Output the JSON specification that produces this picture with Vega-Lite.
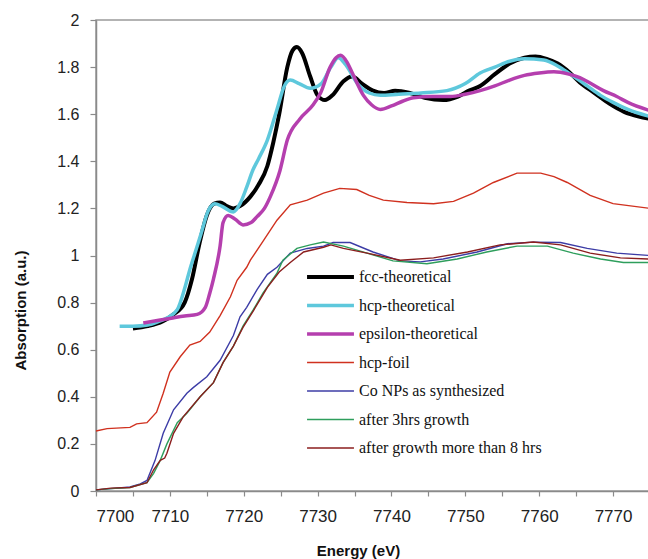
{
  "$schema": "https://vega.github.io/schema/vega-lite/v6.json",
  "width": 554,
  "height": 471,
  "autosize": "none",
  "padding": {"left": 96, "top": 20, "right": 0, "bottom": 68},
  "background": "white",
  "config": {
    "view": {"stroke": "#9a9a9a", "strokeWidth": 1.5},
    "font": "Liberation Sans",
    "axis": {
      "domainColor": "#8a8a8a", "domainWidth": 1.5, "tickColor": "#8a8a8a", "tickWidth": 1.2,
      "grid": false, "labelColor": "#222", "titleColor": "#111",
      "labelFont": "Liberation Sans", "titleFont": "Liberation Sans"
    }
  },
  "data": {"values": [
    {"s":"fcc-theoretical","e":7705,"v":0.69},{"s":"fcc-theoretical","e":7707,"v":0.70},{"s":"fcc-theoretical","e":7709,"v":0.72},{"s":"fcc-theoretical","e":7710.5,"v":0.75},{"s":"fcc-theoretical","e":7712,"v":0.80},{"s":"fcc-theoretical","e":7713,"v":0.90},{"s":"fcc-theoretical","e":7714,"v":1.05},{"s":"fcc-theoretical","e":7715,"v":1.17},{"s":"fcc-theoretical","e":7716,"v":1.22},{"s":"fcc-theoretical","e":7716.8,"v":1.225},{"s":"fcc-theoretical","e":7717.7,"v":1.21},{"s":"fcc-theoretical","e":7718.6,"v":1.20},{"s":"fcc-theoretical","e":7719.5,"v":1.21},{"s":"fcc-theoretical","e":7720.9,"v":1.25},{"s":"fcc-theoretical","e":7722,"v":1.30},{"s":"fcc-theoretical","e":7723.2,"v":1.38},{"s":"fcc-theoretical","e":7724,"v":1.48},{"s":"fcc-theoretical","e":7724.8,"v":1.60},{"s":"fcc-theoretical","e":7725.9,"v":1.80},{"s":"fcc-theoretical","e":7726.6,"v":1.87},{"s":"fcc-theoretical","e":7727.2,"v":1.885},{"s":"fcc-theoretical","e":7727.9,"v":1.86},{"s":"fcc-theoretical","e":7729,"v":1.76},{"s":"fcc-theoretical","e":7730,"v":1.68},{"s":"fcc-theoretical","e":7731,"v":1.66},{"s":"fcc-theoretical","e":7732,"v":1.68},{"s":"fcc-theoretical","e":7733.5,"v":1.74},{"s":"fcc-theoretical","e":7734.7,"v":1.76},{"s":"fcc-theoretical","e":7736,"v":1.73},{"s":"fcc-theoretical","e":7737.5,"v":1.70},{"s":"fcc-theoretical","e":7739,"v":1.69},{"s":"fcc-theoretical","e":7740.5,"v":1.70},{"s":"fcc-theoretical","e":7742.5,"v":1.69},{"s":"fcc-theoretical","e":7744.5,"v":1.67},{"s":"fcc-theoretical","e":7747,"v":1.66},{"s":"fcc-theoretical","e":7749,"v":1.675},{"s":"fcc-theoretical","e":7750.5,"v":1.70},{"s":"fcc-theoretical","e":7752,"v":1.72},{"s":"fcc-theoretical","e":7754,"v":1.77},{"s":"fcc-theoretical","e":7756,"v":1.815},{"s":"fcc-theoretical","e":7758,"v":1.84},{"s":"fcc-theoretical","e":7759.5,"v":1.845},{"s":"fcc-theoretical","e":7761,"v":1.835},{"s":"fcc-theoretical","e":7762.5,"v":1.815},{"s":"fcc-theoretical","e":7764,"v":1.78},{"s":"fcc-theoretical","e":7765.5,"v":1.735},{"s":"fcc-theoretical","e":7767.5,"v":1.69},{"s":"fcc-theoretical","e":7769.5,"v":1.645},{"s":"fcc-theoretical","e":7771.5,"v":1.61},{"s":"fcc-theoretical","e":7773.5,"v":1.59},{"s":"fcc-theoretical","e":7775,"v":1.58},

    {"s":"hcp-theoretical","e":7703.2,"v":0.70},{"s":"hcp-theoretical","e":7705,"v":0.70},{"s":"hcp-theoretical","e":7707,"v":0.705},{"s":"hcp-theoretical","e":7708.5,"v":0.72},{"s":"hcp-theoretical","e":7709.6,"v":0.735},{"s":"hcp-theoretical","e":7711,"v":0.77},{"s":"hcp-theoretical","e":7712,"v":0.86},{"s":"hcp-theoretical","e":7712.7,"v":0.94},{"s":"hcp-theoretical","e":7713.5,"v":1.02},{"s":"hcp-theoretical","e":7714.2,"v":1.09},{"s":"hcp-theoretical","e":7715.2,"v":1.19},{"s":"hcp-theoretical","e":7716.1,"v":1.22},{"s":"hcp-theoretical","e":7717,"v":1.21},{"s":"hcp-theoretical","e":7718.6,"v":1.185},{"s":"hcp-theoretical","e":7719.5,"v":1.22},{"s":"hcp-theoretical","e":7720.4,"v":1.29},{"s":"hcp-theoretical","e":7721.2,"v":1.36},{"s":"hcp-theoretical","e":7722,"v":1.41},{"s":"hcp-theoretical","e":7723.2,"v":1.49},{"s":"hcp-theoretical","e":7724.5,"v":1.62},{"s":"hcp-theoretical","e":7725.5,"v":1.72},{"s":"hcp-theoretical","e":7726.3,"v":1.745},{"s":"hcp-theoretical","e":7727.5,"v":1.73},{"s":"hcp-theoretical","e":7729,"v":1.71},{"s":"hcp-theoretical","e":7730.5,"v":1.73},{"s":"hcp-theoretical","e":7731.8,"v":1.80},{"s":"hcp-theoretical","e":7732.8,"v":1.84},{"s":"hcp-theoretical","e":7733.8,"v":1.81},{"s":"hcp-theoretical","e":7735.4,"v":1.73},{"s":"hcp-theoretical","e":7737,"v":1.69},{"s":"hcp-theoretical","e":7738.5,"v":1.68},{"s":"hcp-theoretical","e":7741,"v":1.685},{"s":"hcp-theoretical","e":7744,"v":1.69},{"s":"hcp-theoretical","e":7747.5,"v":1.70},{"s":"hcp-theoretical","e":7750,"v":1.73},{"s":"hcp-theoretical","e":7752,"v":1.775},{"s":"hcp-theoretical","e":7754,"v":1.80},{"s":"hcp-theoretical","e":7756,"v":1.825},{"s":"hcp-theoretical","e":7758,"v":1.835},{"s":"hcp-theoretical","e":7760.6,"v":1.83},{"s":"hcp-theoretical","e":7762.5,"v":1.805},{"s":"hcp-theoretical","e":7764.2,"v":1.77},{"s":"hcp-theoretical","e":7766.5,"v":1.72},{"s":"hcp-theoretical","e":7768.3,"v":1.68},{"s":"hcp-theoretical","e":7770,"v":1.65},{"s":"hcp-theoretical","e":7772,"v":1.62},{"s":"hcp-theoretical","e":7775,"v":1.59},

    {"s":"epsilon-theoretical","e":7706.4,"v":0.713},{"s":"epsilon-theoretical","e":7708.5,"v":0.725},{"s":"epsilon-theoretical","e":7710.4,"v":0.735},{"s":"epsilon-theoretical","e":7712,"v":0.743},{"s":"epsilon-theoretical","e":7713.7,"v":0.75},{"s":"epsilon-theoretical","e":7714.8,"v":0.78},{"s":"epsilon-theoretical","e":7715.4,"v":0.84},{"s":"epsilon-theoretical","e":7715.9,"v":0.90},{"s":"epsilon-theoretical","e":7716.8,"v":1.04},{"s":"epsilon-theoretical","e":7717.2,"v":1.14},{"s":"epsilon-theoretical","e":7717.9,"v":1.17},{"s":"epsilon-theoretical","e":7718.8,"v":1.155},{"s":"epsilon-theoretical","e":7719.9,"v":1.13},{"s":"epsilon-theoretical","e":7721,"v":1.14},{"s":"epsilon-theoretical","e":7721.8,"v":1.165},{"s":"epsilon-theoretical","e":7722.8,"v":1.20},{"s":"epsilon-theoretical","e":7723.6,"v":1.25},{"s":"epsilon-theoretical","e":7724.9,"v":1.36},{"s":"epsilon-theoretical","e":7725.9,"v":1.49},{"s":"epsilon-theoretical","e":7727.6,"v":1.58},{"s":"epsilon-theoretical","e":7729.4,"v":1.64},{"s":"epsilon-theoretical","e":7730.4,"v":1.69},{"s":"epsilon-theoretical","e":7731.7,"v":1.80},{"s":"epsilon-theoretical","e":7732.5,"v":1.84},{"s":"epsilon-theoretical","e":7733.1,"v":1.85},{"s":"epsilon-theoretical","e":7734,"v":1.82},{"s":"epsilon-theoretical","e":7734.7,"v":1.775},{"s":"epsilon-theoretical","e":7736.2,"v":1.68},{"s":"epsilon-theoretical","e":7737.3,"v":1.64},{"s":"epsilon-theoretical","e":7738.5,"v":1.62},{"s":"epsilon-theoretical","e":7740,"v":1.635},{"s":"epsilon-theoretical","e":7741.5,"v":1.655},{"s":"epsilon-theoretical","e":7743,"v":1.67},{"s":"epsilon-theoretical","e":7745.5,"v":1.675},{"s":"epsilon-theoretical","e":7748,"v":1.675},{"s":"epsilon-theoretical","e":7750,"v":1.685},{"s":"epsilon-theoretical","e":7752,"v":1.70},{"s":"epsilon-theoretical","e":7754,"v":1.72},{"s":"epsilon-theoretical","e":7756,"v":1.745},{"s":"epsilon-theoretical","e":7758,"v":1.765},{"s":"epsilon-theoretical","e":7760,"v":1.775},{"s":"epsilon-theoretical","e":7762,"v":1.78},{"s":"epsilon-theoretical","e":7764,"v":1.77},{"s":"epsilon-theoretical","e":7765.5,"v":1.755},{"s":"epsilon-theoretical","e":7767,"v":1.73},{"s":"epsilon-theoretical","e":7768.7,"v":1.70},{"s":"epsilon-theoretical","e":7770.5,"v":1.675},{"s":"epsilon-theoretical","e":7772,"v":1.65},{"s":"epsilon-theoretical","e":7775,"v":1.615},

    {"s":"hcp-foil","e":7700,"v":0.255},{"s":"hcp-foil","e":7701.5,"v":0.265},{"s":"hcp-foil","e":7704.6,"v":0.27},{"s":"hcp-foil","e":7705.5,"v":0.285},{"s":"hcp-foil","e":7706.9,"v":0.29},{"s":"hcp-foil","e":7708.2,"v":0.335},{"s":"hcp-foil","e":7709.1,"v":0.415},{"s":"hcp-foil","e":7710,"v":0.505},{"s":"hcp-foil","e":7711.4,"v":0.57},{"s":"hcp-foil","e":7712.7,"v":0.62},{"s":"hcp-foil","e":7714.1,"v":0.635},{"s":"hcp-foil","e":7715.4,"v":0.675},{"s":"hcp-foil","e":7716.8,"v":0.745},{"s":"hcp-foil","e":7718.2,"v":0.825},{"s":"hcp-foil","e":7719.1,"v":0.895},{"s":"hcp-foil","e":7720.4,"v":0.95},{"s":"hcp-foil","e":7720.9,"v":0.98},{"s":"hcp-foil","e":7722.6,"v":1.06},{"s":"hcp-foil","e":7724.5,"v":1.15},{"s":"hcp-foil","e":7726.3,"v":1.215},{"s":"hcp-foil","e":7728.6,"v":1.235},{"s":"hcp-foil","e":7730.8,"v":1.265},{"s":"hcp-foil","e":7733,"v":1.285},{"s":"hcp-foil","e":7735.3,"v":1.28},{"s":"hcp-foil","e":7737,"v":1.255},{"s":"hcp-foil","e":7738.9,"v":1.235},{"s":"hcp-foil","e":7742.1,"v":1.225},{"s":"hcp-foil","e":7745.7,"v":1.22},{"s":"hcp-foil","e":7748.4,"v":1.23},{"s":"hcp-foil","e":7751.1,"v":1.265},{"s":"hcp-foil","e":7753.8,"v":1.31},{"s":"hcp-foil","e":7757,"v":1.35},{"s":"hcp-foil","e":7760.2,"v":1.35},{"s":"hcp-foil","e":7762,"v":1.335},{"s":"hcp-foil","e":7763.8,"v":1.31},{"s":"hcp-foil","e":7766.9,"v":1.255},{"s":"hcp-foil","e":7770,"v":1.22},{"s":"hcp-foil","e":7775,"v":1.20},

    {"s":"Co NPs as synthesized","e":7700,"v":0.005},{"s":"Co NPs as synthesized","e":7702,"v":0.01},{"s":"Co NPs as synthesized","e":7704.6,"v":0.017},{"s":"Co NPs as synthesized","e":7706,"v":0.03},{"s":"Co NPs as synthesized","e":7706.9,"v":0.045},{"s":"Co NPs as synthesized","e":7708,"v":0.13},{"s":"Co NPs as synthesized","e":7709.1,"v":0.245},{"s":"Co NPs as synthesized","e":7710.5,"v":0.345},{"s":"Co NPs as synthesized","e":7712.3,"v":0.415},{"s":"Co NPs as synthesized","e":7713.2,"v":0.44},{"s":"Co NPs as synthesized","e":7715,"v":0.485},{"s":"Co NPs as synthesized","e":7716.8,"v":0.555},{"s":"Co NPs as synthesized","e":7718.6,"v":0.66},{"s":"Co NPs as synthesized","e":7719.5,"v":0.74},{"s":"Co NPs as synthesized","e":7720.4,"v":0.78},{"s":"Co NPs as synthesized","e":7721.8,"v":0.855},{"s":"Co NPs as synthesized","e":7723.2,"v":0.92},{"s":"Co NPs as synthesized","e":7724.5,"v":0.95},{"s":"Co NPs as synthesized","e":7726.3,"v":1.01},{"s":"Co NPs as synthesized","e":7728.6,"v":1.03},{"s":"Co NPs as synthesized","e":7730.8,"v":1.04},{"s":"Co NPs as synthesized","e":7732.1,"v":1.055},{"s":"Co NPs as synthesized","e":7734.4,"v":1.055},{"s":"Co NPs as synthesized","e":7737.5,"v":1.015},{"s":"Co NPs as synthesized","e":7741.2,"v":0.977},{"s":"Co NPs as synthesized","e":7743.9,"v":0.973},{"s":"Co NPs as synthesized","e":7747,"v":0.985},{"s":"Co NPs as synthesized","e":7751.6,"v":1.015},{"s":"Co NPs as synthesized","e":7755.7,"v":1.05},{"s":"Co NPs as synthesized","e":7759.2,"v":1.057},{"s":"Co NPs as synthesized","e":7762.9,"v":1.055},{"s":"Co NPs as synthesized","e":7766.5,"v":1.03},{"s":"Co NPs as synthesized","e":7770.5,"v":1.01},{"s":"Co NPs as synthesized","e":7775,"v":1.00},

    {"s":"after 3hrs growth","e":7700,"v":0.005},{"s":"after 3hrs growth","e":7702,"v":0.01},{"s":"after 3hrs growth","e":7704.6,"v":0.015},{"s":"after 3hrs growth","e":7706.9,"v":0.035},{"s":"after 3hrs growth","e":7707.8,"v":0.075},{"s":"after 3hrs growth","e":7708.7,"v":0.13},{"s":"after 3hrs growth","e":7709.6,"v":0.20},{"s":"after 3hrs growth","e":7711,"v":0.29},{"s":"after 3hrs growth","e":7712.3,"v":0.33},{"s":"after 3hrs growth","e":7714.1,"v":0.40},{"s":"after 3hrs growth","e":7715.9,"v":0.46},{"s":"after 3hrs growth","e":7717.2,"v":0.545},{"s":"after 3hrs growth","e":7718.6,"v":0.615},{"s":"after 3hrs growth","e":7719.9,"v":0.70},{"s":"after 3hrs growth","e":7721.3,"v":0.77},{"s":"after 3hrs growth","e":7722.6,"v":0.84},{"s":"after 3hrs growth","e":7724.5,"v":0.925},{"s":"after 3hrs growth","e":7725.3,"v":0.98},{"s":"after 3hrs growth","e":7727.2,"v":1.03},{"s":"after 3hrs growth","e":7729,"v":1.045},{"s":"after 3hrs growth","e":7730.8,"v":1.057},{"s":"after 3hrs growth","e":7733.5,"v":1.04},{"s":"after 3hrs growth","e":7736.7,"v":1.01},{"s":"after 3hrs growth","e":7740.2,"v":0.977},{"s":"after 3hrs growth","e":7744.8,"v":0.965},{"s":"after 3hrs growth","e":7748.9,"v":0.985},{"s":"after 3hrs growth","e":7752.9,"v":1.015},{"s":"after 3hrs growth","e":7757,"v":1.04},{"s":"after 3hrs growth","e":7761.1,"v":1.04},{"s":"after 3hrs growth","e":7764.6,"v":1.01},{"s":"after 3hrs growth","e":7768.3,"v":0.985},{"s":"after 3hrs growth","e":7771.4,"v":0.97},{"s":"after 3hrs growth","e":7775,"v":0.97},

    {"s":"after growth more than 8 hrs","e":7700,"v":0.005},{"s":"after growth more than 8 hrs","e":7702,"v":0.012},{"s":"after growth more than 8 hrs","e":7704.6,"v":0.015},{"s":"after growth more than 8 hrs","e":7706.9,"v":0.035},{"s":"after growth more than 8 hrs","e":7707.8,"v":0.09},{"s":"after growth more than 8 hrs","e":7708.7,"v":0.13},{"s":"after growth more than 8 hrs","e":7709.3,"v":0.14},{"s":"after growth more than 8 hrs","e":7709.6,"v":0.16},{"s":"after growth more than 8 hrs","e":7710.5,"v":0.245},{"s":"after growth more than 8 hrs","e":7711.8,"v":0.315},{"s":"after growth more than 8 hrs","e":7714.1,"v":0.40},{"s":"after growth more than 8 hrs","e":7715.9,"v":0.46},{"s":"after growth more than 8 hrs","e":7717.2,"v":0.545},{"s":"after growth more than 8 hrs","e":7718.6,"v":0.615},{"s":"after growth more than 8 hrs","e":7719.9,"v":0.695},{"s":"after growth more than 8 hrs","e":7721.3,"v":0.765},{"s":"after growth more than 8 hrs","e":7723.2,"v":0.865},{"s":"after growth more than 8 hrs","e":7724.8,"v":0.93},{"s":"after growth more than 8 hrs","e":7726.3,"v":0.97},{"s":"after growth more than 8 hrs","e":7728.1,"v":1.015},{"s":"after growth more than 8 hrs","e":7730.8,"v":1.035},{"s":"after growth more than 8 hrs","e":7731.8,"v":1.045},{"s":"after growth more than 8 hrs","e":7733.5,"v":1.03},{"s":"after growth more than 8 hrs","e":7736.7,"v":1.01},{"s":"after growth more than 8 hrs","e":7741.2,"v":0.98},{"s":"after growth more than 8 hrs","e":7745.7,"v":0.99},{"s":"after growth more than 8 hrs","e":7750.3,"v":1.015},{"s":"after growth more than 8 hrs","e":7754.7,"v":1.045},{"s":"after growth more than 8 hrs","e":7759.2,"v":1.057},{"s":"after growth more than 8 hrs","e":7762.9,"v":1.045},{"s":"after growth more than 8 hrs","e":7766.9,"v":1.01},{"s":"after growth more than 8 hrs","e":7771,"v":0.99},{"s":"after growth more than 8 hrs","e":7775,"v":0.985}
  ]},
  "encoding": {
    "x": {"field": "e", "type": "quantitative",
      "scale": {"domain": [7700, 7775], "nice": false, "zero": false},
      "axis": {"title": "Energy (eV)", "values": [7700,7705,7710,7715,7720,7725,7730,7735,7740,7745,7750,7755,7760,7765,7770],
        "labelExpr": "datum.value % 10 == 0 ? datum.value : ''",
        "tickSize": 5, "labelFontSize": 17, "labelPadding": 12,
        "titleFontSize": 15, "titleFontWeight": "bold", "titleX": 262, "titleY": 59, "titleBaseline": "middle", "titleAnchor": "middle"}},
    "y": {"field": "v", "type": "quantitative",
      "scale": {"domain": [0, 2], "nice": false},
      "axis": {"title": "Absorption (a.u.)", "values": [0,0.2,0.4,0.6,0.8,1,1.2,1.4,1.6,1.8,2], "format": "~g",
        "tickSize": 6, "labelFontSize": 16, "labelPadding": 11,
        "titleFontSize": 15, "titleFontWeight": "bold", "titleX": -76, "titleY": 290, "titleBaseline": "middle", "titleAnchor": "middle"}},
    "color": {"field": "s", "type": "nominal",
      "scale": {"domain": ["fcc-theoretical","hcp-theoretical","epsilon-theoretical","hcp-foil","Co NPs as synthesized","after 3hrs growth","after growth more than 8 hrs"],
        "range": ["#000000","#5ec8dc","#b53fae","#d0311f","#3c3ca6","#2e9e5c","#8b1e1e"]},
      "legend": {"orient": "none", "legendX": 209, "legendY": 247, "title": null, "symbolType": "stroke", "symbolSize": 2200,
        "clipHeight": 20, "rowPadding": 8.5,
        "labelFont": "Liberation Serif", "labelFontSize": 16, "labelColor": "#111", "labelOffset": 3, "labelLimit": 0, "padding": 0}},
    "strokeWidth": {"field": "s", "type": "nominal",
      "scale": {"type": "ordinal", "domain": ["fcc-theoretical","hcp-theoretical","epsilon-theoretical","hcp-foil","Co NPs as synthesized","after 3hrs growth","after growth more than 8 hrs"],
        "range": [4, 3.5, 3.5, 1.4, 1.4, 1.4, 1.4]}}
  },
  "layer": [
    {"transform": [{"filter": "indexof(datum.s, 'theoretical') < 0"}], "mark": {"type": "line", "interpolate": "linear"}},
    {"transform": [{"filter": "indexof(datum.s, 'theoretical') >= 0"}], "mark": {"type": "line", "interpolate": "monotone"}}
  ]
}
